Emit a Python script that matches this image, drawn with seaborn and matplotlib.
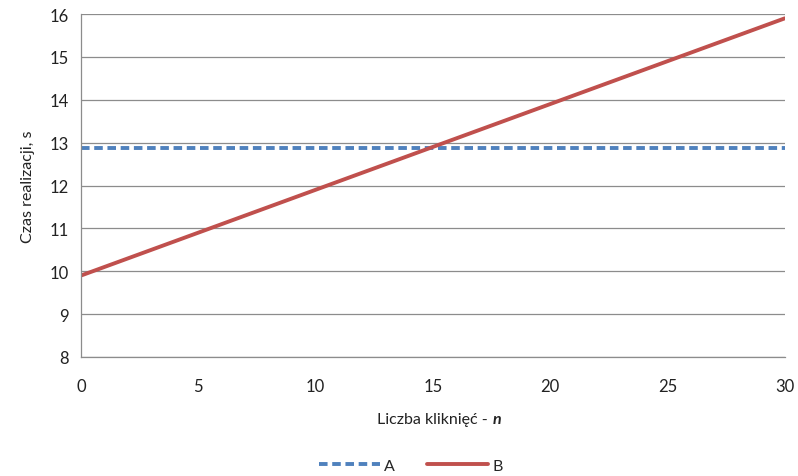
import matplotlib
matplotlib.use('Agg')
import matplotlib.pyplot as plt
from matplotlib.lines import Line2D
import seaborn as sns
import pandas as pd

# ── data ─────────────────────────────────────────────────────
n_vals = [0, 5, 10, 15, 20, 25, 30]
a_vals = [12.87, 12.87, 12.87, 12.87, 12.87, 12.87, 12.87]
b_vals = [9.9, 10.9, 11.9, 12.9, 13.9, 14.9, 15.9]
x_ticks = [0, 5, 10, 15, 20, 25, 30]
y_ticks = [8, 9, 10, 11, 12, 13, 14, 15, 16]

sns.set_theme(style='white')
plt.rcParams['font.family'] = ['Lato', 'DejaVu Sans']

df = pd.DataFrame({'n': n_vals * 2,
                   'val': a_vals + b_vals,
                   'ser': ['A'] * len(n_vals) + ['B'] * len(n_vals)})

fig = plt.figure(figsize=(7.98, 4.77), dpi=100)
ax = fig.add_axes([0.1015, 0.2495, 0.882, 0.719])
sns.lineplot(data=df, x='n', y='val', hue='ser', style='ser',
             palette={'A': '#4F81BD', 'B': '#C0504D'},
             dashes={'A': (2.2, 1.2), 'B': ''}, linewidth=2.8, ax=ax, legend=False)

ax.set_xlim(0, 30); ax.set_ylim(8, 16)
ax.set_xticks(x_ticks); ax.set_yticks(y_ticks)
ax.grid(axis='y', color='#8c8c8c', linewidth=0.9)
ax.set_axisbelow(True)
for s in ['top', 'right']: ax.spines[s].set_visible(False)
for s in ['left', 'bottom']:
    ax.spines[s].set_color('#8c8c8c'); ax.spines[s].set_linewidth(0.9)
ax.tick_params(axis='both', direction='out', length=5, width=0.9, color='#8c8c8c',
               labelsize=12, labelcolor='#222222', pad=4)
ax.tick_params(axis='x', pad=10)
ax.set_ylabel('Czas realizacji, s', fontsize=11.5, color='#222222', labelpad=10)
ax.set_xlabel('')

# x label with bold italic "n"
fig.text(0.617, 0.119, 'Liczba kliknięć - ', ha='right', va='center', fontsize=11.5, color='#222222')
fig.text(0.617, 0.119, 'n', ha='left', va='center', fontsize=11.5, color='#222222',
         fontweight='bold', fontstyle='italic')

handles = [Line2D([], [], color='#4F81BD', lw=2.8, dashes=(2.2, 1.2)),
           Line2D([], [], color='#C0504D', lw=2.8)]
fig.legend(handles, ['A', 'B'], loc='center', bbox_to_anchor=(0.515, 0.022), ncol=2,
           frameon=False, fontsize=11.5, handlelength=3.8, columnspacing=2.0, handletextpad=0.3)

plt.savefig('out.png', dpi=100)
